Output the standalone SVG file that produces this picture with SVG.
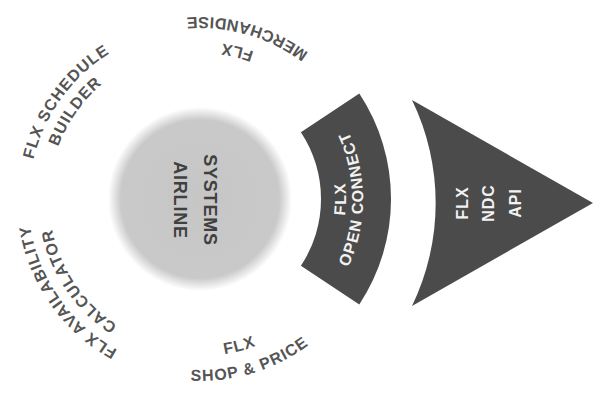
<svg xmlns="http://www.w3.org/2000/svg" xmlns:xlink="http://www.w3.org/1999/xlink" width="605" height="406" viewBox="0 0 605 406">
<defs>
<style>
.ring{font-family:"Liberation Sans",Arial,sans-serif;font-weight:bold;font-size:16px;fill:#555555;letter-spacing:1px}
.inv{font-family:"Liberation Sans",Arial,sans-serif;font-weight:bold;font-size:16px;fill:#f2f2f2;letter-spacing:1px}
.core{font-family:"Liberation Sans",Arial,sans-serif;font-weight:bold;font-size:18px;fill:#404040;letter-spacing:0.8px}
.dark{fill:#4b4b4b}
</style>
<radialGradient id="g" cx="200" cy="199" r="92" gradientUnits="userSpaceOnUse">
<stop offset="0" stop-color="#c6c6c6"/>
<stop offset="0.86" stop-color="#c9c9c9"/>
<stop offset="1" stop-color="#ffffff"/>
</radialGradient>
<path id="p1" d="M43.8,269.4 A172,172 0 0 1 218,28"/>
<path id="p2" d="M63.1,262.8 A151,151 0 0 1 213.2,48.6"/>
<path id="p3" d="M215,370.3 A172,172 0 0 1 44.1,126.3"/>
<path id="p4" d="M210.5,349.6 A151,151 0 0 1 64.3,132.8"/>
<path id="p5" d="M376.6,155 A182,182 0 0 0 73.6,68.1"/>
<path id="p6" d="M350.9,155.7 A157,157 0 0 0 87.1,89.9"/>
<path id="p7" d="M75.9,332.1 A182,182 0 0 0 377.3,240"/>
<path id="p8" d="M89,310 A157,157 0 0 0 351.7,239.6"/>
<path id="p9" d="M273,325.4 A146,146 0 0 0 273,72.6"/>
<path id="p10" d="M281.5,340.2 A163,163 0 0 0 281.5,57.8"/>
</defs>
<rect width="605" height="406" fill="#ffffff"/>
<g id="core">
<circle cx="200" cy="199" r="92" fill="url(#g)"/>
<text class="core" transform="translate(174,200) rotate(90)" text-anchor="middle">AIRLINE</text>
<text class="core" transform="translate(204,200) rotate(90)" text-anchor="middle">SYSTEMS</text>
</g>
<g id="schedule">
<text class="ring"><textPath href="#p1" startOffset="50%" text-anchor="middle">FLX SCHEDULE</textPath></text>
<text class="ring"><textPath href="#p2" startOffset="50%" text-anchor="middle">BUILDER</textPath></text>
</g>
<g id="availability">
<text class="ring"><textPath href="#p3" startOffset="50%" text-anchor="middle">FLX AVAILABILITY</textPath></text>
<text class="ring"><textPath href="#p4" startOffset="50%" text-anchor="middle">CALCULATOR</textPath></text>
</g>
<g id="merchandise">
<text class="ring"><textPath href="#p5" startOffset="50%" text-anchor="middle">MERCHANDISE</textPath></text>
<text class="ring"><textPath href="#p6" startOffset="50%" text-anchor="middle">FLX</textPath></text>
</g>
<g id="shop">
<text class="ring"><textPath href="#p8" startOffset="50%" text-anchor="middle">FLX</textPath></text>
<text class="ring"><textPath href="#p7" startOffset="50%" text-anchor="middle">SHOP &amp; PRICE</textPath></text>
</g>
<g id="openconnect">
<path class="dark" d="M300.9,132.2 L359.3,93.6 A191,191 0 0 1 359.3,304.4 L300.9,265.8 A121,121 0 0 0 300.9,132.2 Z"/>
<text class="inv"><textPath href="#p9" startOffset="50%" text-anchor="middle">FLX</textPath></text>
<text class="inv"><textPath href="#p10" startOffset="50%" text-anchor="middle">OPEN CONNECT</textPath></text>
</g>
<g id="ndcapi">
<path class="dark" d="M412,100 L593,203 L412,306 A236,236 0 0 0 412,100 Z"/>
<text class="inv" transform="translate(468,203) rotate(-90)" text-anchor="middle">FLX</text>
<text class="inv" transform="translate(494,203) rotate(-90)" text-anchor="middle">NDC</text>
<text class="inv" transform="translate(521,203) rotate(-90)" text-anchor="middle">API</text>
</g>
<g id="connectors"/>
</svg>
